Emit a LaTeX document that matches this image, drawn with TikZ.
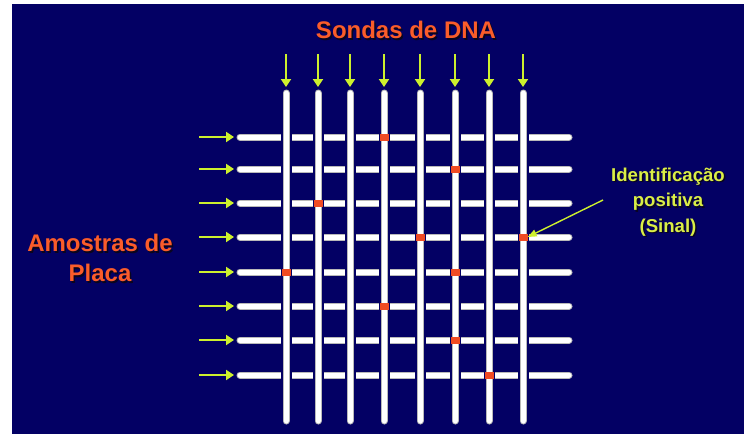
\documentclass[tikz,border=0pt]{standalone}
\usepackage{fontspec}
\setmainfont{Liberation Sans}
\usetikzlibrary{arrows.meta}
\definecolor{bg}{RGB}{3,0,100}
\definecolor{orangetxt}{RGB}{250,92,42}
\definecolor{greenarr}{RGB}{205,240,45}
\definecolor{yellowtxt}{RGB}{218,238,70}
\definecolor{redmark}{RGB}{240,75,35}
\definecolor{shadowc}{RGB}{10,5,30}
\tikzset{
  tubeedge/.style={draw=gray!55, line width=7, line cap=round},
  tubecore/.style={draw=white, line width=5, line cap=round},
  gapband/.style={draw=bg, line width=11, line cap=butt},
  garrow/.style={draw=greenarr, line width=2.6, -{Triangle[length=8,width=10]}},
  thinarrow/.style={draw=greenarr, line width=1.4, -{Triangle[length=9,width=7]}},
  redsq/.style={fill=redmark, minimum width=9, minimum height=7, inner sep=0, draw=none},
  bigtxt/.style={font=\fontsize{24}{30}\selectfont\bfseries, align=center, inner sep=0},
  smalltxt/.style={font=\fontsize{18.6}{25.5}\selectfont\bfseries, align=center, inner sep=0}
}
\begin{document}
\begin{tikzpicture}[x=1pt,y=-1pt]
\fill[white] (0,0) rectangle (744,434);
\fill[bg] (12,4) rectangle (744,434);
\useasboundingbox (0,0) rectangle (744,434);
% horizontal tubes and arrows
\foreach \y [count=\j] in {137,169,203,237,272,306,340,375} {
  \coordinate (hl\j) at (240,\y);
  \coordinate (hr\j) at (569,\y);
  \draw[tubeedge] (hl\j) -- (hr\j);
  \draw[tubecore] (hl\j) -- (hr\j);
  \coordinate (as\j) at (199,\y);
  \coordinate (ae\j) at (234,\y);
  \draw[garrow] (as\j) -- (ae\j);
}
% vertical tubes and arrows
\foreach \x [count=\i] in {286,318,350,384,420,455,489,523} {
  \coordinate (vt\i) at (\x,93);
  \coordinate (vb\i) at (\x,421);
  \coordinate (gt\i) at (\x,120);
  \coordinate (gb\i) at (\x,390);
  \draw[gapband] (gt\i) -- (gb\i);
  \draw[tubeedge] (vt\i) -- (vb\i);
  \draw[tubecore] (vt\i) -- (vb\i);
  \coordinate (ds\i) at (\x,54);
  \coordinate (de\i) at (\x,87);
  \draw[garrow] (ds\i) -- (de\i);
}
% red marks
\node[redsq] (m1) at (384,137) {};
\node[redsq] (m2) at (455,169) {};
\node[redsq] (m3) at (318,203) {};
\node[redsq] (m4) at (420,237) {};
\node[redsq] (m5) at (523,237) {};
\node[redsq] (m6) at (286,272) {};
\node[redsq] (m7) at (455,272) {};
\node[redsq] (m8) at (384,306) {};
\node[redsq] (m9) at (455,340) {};
\node[redsq] (m10) at (489,375) {};
% titles
\node[bigtxt, text=shadowc] (titleS) at (407.5,31.5) {Sondas de DNA};
\node[bigtxt, text=orangetxt] (title) at (406,30) {Sondas de DNA};
\node[bigtxt, text=shadowc] (leftS) at (101.5,259.5) {Amostras de\\Placa};
\node[bigtxt, text=orangetxt] (left) at (100,258) {Amostras de\\Placa};
\node[smalltxt, text=shadowc] (rightS) at (669.5,203.5) {Identificação\\positiva\\(Sinal)};
\node[smalltxt, text=yellowtxt] (right) at (668,202) {Identificação\\positiva\\(Sinal)};
% annotation arrow
\coordinate (ia) at (603,200);
\draw[thinarrow] (ia) -- (m5.east);
\end{tikzpicture}
\end{document}
